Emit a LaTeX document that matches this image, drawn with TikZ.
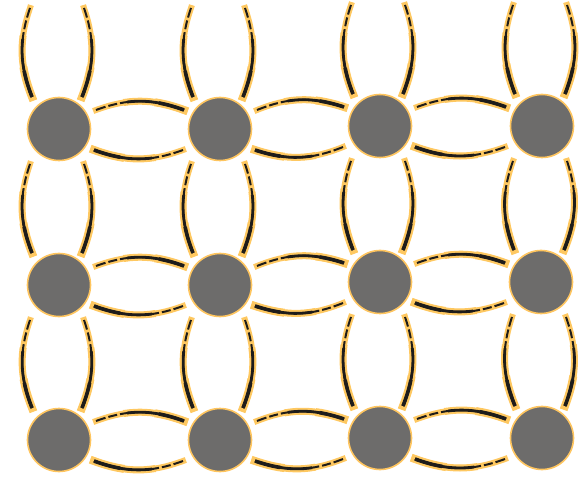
\documentclass[tikz,border=0pt]{standalone}
\usepackage{tikz}
\usetikzlibrary{calc}
\definecolor{beadGray}{HTML}{6D6C6B}
\definecolor{beadOrange}{HTML}{FEC55F}
\definecolor{springDark}{HTML}{1E1C1A}
\definecolor{springOrange}{HTML}{FEC861}
\tikzset{
  bead/.style={circle, draw=beadOrange, line width=1.6pt, fill=beadGray,
    minimum size=63pt, inner sep=0pt},
  spring/.style={draw=springDark, line width=2pt,
    dash pattern=on 10pt off 3pt on 9pt off 3pt on 400pt off 0pt,
    preaction={draw=springOrange, line width=6pt, solid, line cap=rect},
    preaction={draw=springOrange, line width=7pt, line cap=rect,
      dash pattern=on 400pt off 32pt, dash phase=400pt},
    preaction={draw=springOrange, line width=8pt, line cap=rect,
      dash pattern=on 400pt off 64pt, dash phase=400pt},
    postaction={draw=springDark, line width=2.8pt,
      dash pattern=on 400pt off 32pt, dash phase=400pt},
    postaction={draw=springDark, line width=3.6pt,
      dash pattern=on 400pt off 64pt, dash phase=400pt}}
}
\begin{document}
\begin{tikzpicture}[x=1pt, y=1pt]
  \useasboundingbox (0,0) rectangle (581,477);
  % beads, row by row from the top
  \node[bead] (n11) at (59,348) {};
  \node[bead] (n12) at (220,348) {};
  \node[bead] (n13) at (380,351) {};
  \node[bead] (n14) at (542,351) {};
  \node[bead] (n21) at (59,192) {};
  \node[bead] (n22) at (220,192) {};
  \node[bead] (n23) at (380,195) {};
  \node[bead] (n24) at (541,195) {};
  \node[bead] (n31) at (59,37) {};
  \node[bead] (n32) at (220,37) {};
  \node[bead] (n33) at (380,39) {};
  \node[bead] (n34) at (542,39) {};
  % beads above the frame
  \coordinate (t1) at (59,504);
  \coordinate (t2) at (220,504);
  \coordinate (t3) at (380,507);
  \coordinate (t4) at (542,507);
  % horizontal springs
  \foreach \r in {1,2,3}
    \foreach \c/\d in {1/2,2/3,3/4} {
      \draw[spring] ($(n\r\c)+(37,19)$) to[bend left=20] ($(n\r\d)+(-36,19)$);
      \draw[spring] ($(n\r\d)+(-37,-21)$) to[bend left=20] ($(n\r\c)+(35,-21)$);
    }
  % vertical springs
  \foreach \c in {1,2,3,4}
    \foreach \r/\u in {1/t,2/n1,3/n2} {
      \draw[spring] ($(\u\c)+(-29,-35)$) to[bend right=20] ($(n\r\c)+(-27,32)$);
      \draw[spring] ($(\u\c)+(25,-35)$) to[bend left=20] ($(n\r\c)+(23,32)$);
    }
\end{tikzpicture}
\end{document}
